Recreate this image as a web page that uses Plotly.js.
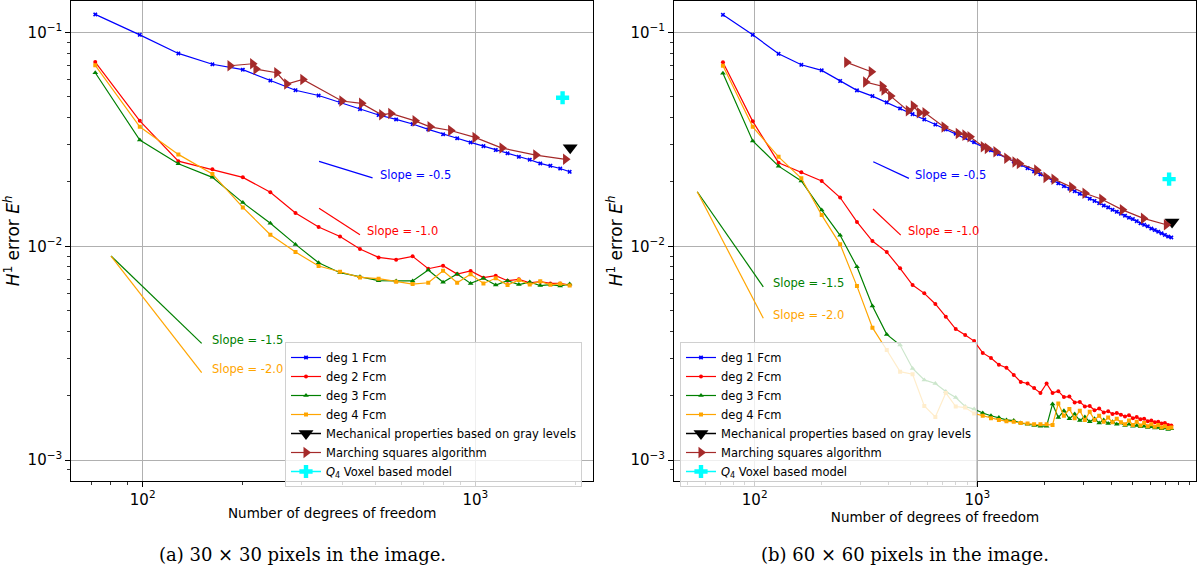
<!DOCTYPE html>
<html>
<head>
<meta charset="utf-8">
<script src="https://cdn.plot.ly/plotly-3.0.1.min.js"></script>
<style>html,body{margin:0;padding:0;background:#fff;}#chart{width:1198px;height:570px;}</style>
</head>
<body>
<div id="chart"></div>
<script>
// ---------- (a) 30 x 30 pixels ----------
const dofA = [72, 98, 128, 162, 200, 242, 288, 338, 392, 450, 512, 578, 648, 722, 800, 882, 968, 1058, 1152, 1250, 1352, 1458, 1568, 1682, 1800, 1922];
const deg1A = [0.1215, 0.0975, 0.0798, 0.0710, 0.0670, 0.0596, 0.0537, 0.0507, 0.0471, 0.0438, 0.0411, 0.0392, 0.0373, 0.0352, 0.0334, 0.0320, 0.0306, 0.0294, 0.0282, 0.0272, 0.0262, 0.0254, 0.0244, 0.0238, 0.0231, 0.0223];
const deg2A = [0.0727, 0.0386, 0.0250, 0.0229, 0.0210, 0.0179, 0.0143, 0.0123, 0.0111, 0.0097, 0.00887, 0.00865, 0.00897, 0.00785, 0.00811, 0.00741, 0.00766, 0.00713, 0.00728, 0.00690, 0.00700, 0.00675, 0.00683, 0.00670, 0.00670, 0.00658];
const deg3A = [0.0648, 0.0314, 0.0243, 0.0210, 0.0160, 0.0128, 0.0102, 0.00837, 0.00752, 0.00720, 0.00690, 0.00688, 0.00688, 0.00774, 0.00678, 0.00741, 0.00670, 0.00708, 0.00658, 0.00690, 0.00662, 0.00680, 0.00655, 0.00662, 0.00652, 0.00665];
const deg4A = [0.0702, 0.0362, 0.0269, 0.0218, 0.0152, 0.01132, 0.00939, 0.00808, 0.0076, 0.00715, 0.00705, 0.00683, 0.00665, 0.00675, 0.00768, 0.00675, 0.00739, 0.00670, 0.00708, 0.00658, 0.00695, 0.00662, 0.00685, 0.00660, 0.00668, 0.00655];
const msDofA = [183, 214, 219, 253, 271, 303, 397, 455, 523, 557, 659, 731, 843, 998, 1203, 1520, 1868];
const msErrA = [0.0699, 0.0714, 0.0674, 0.0648, 0.0574, 0.0603, 0.0478, 0.0466, 0.0412, 0.0418, 0.0386, 0.0362, 0.0348, 0.0323, 0.0288, 0.0267, 0.0255];
const grayDofA = [1929];
const grayErrA = [0.0289];
const voxDofA = [1830];
const voxErrA = [0.0495];

// ---------- (b) 60 x 60 pixels ----------
const dofB = [72, 98, 128, 162, 200, 242, 288, 338, 392, 450, 512, 578, 648, 722, 800, 882, 968, 1058, 1152, 1250, 1352, 1458, 1568, 1682, 1800, 1922,
  2048, 2178, 2312, 2450, 2592, 2738, 2888, 3042, 3200, 3362, 3528, 3698, 3872, 4050, 4232, 4418, 4608, 4802, 5000, 5202, 5408, 5618, 5832, 6050, 6272, 6498, 6728, 6962, 7200, 7442];
const deg1B = [0.121, 0.0975, 0.0795, 0.0706, 0.0665, 0.0593, 0.0536, 0.0504, 0.0471, 0.0441, 0.0415, 0.0392, 0.0371, 0.0352, 0.0336, 0.0321, 0.0307, 0.0293, 0.0281, 0.0270, 0.0259, 0.0249, 0.0240, 0.0232, 0.0224, 0.0217,
  0.0210, 0.0203, 0.0197, 0.0191, 0.0186, 0.0181, 0.0176, 0.0172, 0.0167, 0.0163, 0.0159, 0.0155, 0.0152, 0.0148, 0.0145, 0.0142, 0.0139, 0.0136, 0.0134, 0.0131, 0.0128, 0.0126, 0.0124, 0.0121, 0.0119, 0.0117, 0.0115, 0.0113, 0.0111, 0.0110];
const deg2B = [0.0725, 0.0384, 0.0246, 0.0222, 0.0202, 0.0169, 0.0130, 0.01057, 0.00939, 0.00788, 0.00658, 0.00602, 0.00537, 0.00468, 0.00410, 0.00384, 0.00360, 0.00317, 0.00300, 0.00279, 0.00270, 0.00250, 0.00232, 0.00228, 0.00217, 0.00206,
  0.00228, 0.00206, 0.00210, 0.00197, 0.00198, 0.00186, 0.00187, 0.00178, 0.00179, 0.00171, 0.00174, 0.00167, 0.00169, 0.00164, 0.00166, 0.00163, 0.00160, 0.00162, 0.00157, 0.00159, 0.00155, 0.00156, 0.00152, 0.00153, 0.00150, 0.00151, 0.00148, 0.00149, 0.00146, 0.00145];
const deg3B = [0.0644, 0.0311, 0.0237, 0.0202, 0.01477, 0.01125, 0.00802, 0.00525, 0.00387, 0.00345, 0.00268, 0.00237, 0.00228, 0.00209, 0.00196, 0.00178, 0.00173, 0.00166, 0.00161, 0.00158, 0.00154, 0.00153, 0.00149, 0.00147, 0.00145, 0.00144,
  0.00144, 0.00183, 0.00158, 0.00170, 0.00156, 0.00164, 0.00153, 0.00159, 0.00151, 0.00156, 0.00149, 0.00154, 0.00148, 0.00151, 0.00147, 0.00149, 0.00145, 0.00147, 0.00144, 0.00145, 0.00143, 0.00144, 0.00142, 0.00143, 0.00141, 0.00142, 0.00140, 0.00141, 0.00139, 0.00140];
const deg4B = [0.0699, 0.0362, 0.0262, 0.0208, 0.01399, 0.01021, 0.00651, 0.00416, 0.00327, 0.00259, 0.00252, 0.00179, 0.00159, 0.00206, 0.00178, 0.00176, 0.00165, 0.00161, 0.00157, 0.00154, 0.00152, 0.00151, 0.00149, 0.00148, 0.00147, 0.00147,
  0.00147, 0.00146, 0.00184, 0.00161, 0.00173, 0.00157, 0.00170, 0.00154, 0.00168, 0.00154, 0.00161, 0.00151, 0.00158, 0.00150, 0.00156, 0.00150, 0.00147, 0.00153, 0.00146, 0.00151, 0.00145, 0.00149, 0.00144, 0.00147, 0.00143, 0.00146, 0.00142, 0.00144, 0.00141, 0.00142];
const msDofB = [259, 334, 315, 374, 381, 408, 490, 516, 549, 582, 709, 821, 880, 927, 1064, 1109, 1213, 1356, 1477, 1544, 1849, 2035, 2211, 2655, 3046, 3622, 4486, 5576, 7072];
const msErrB = [0.0725, 0.0655, 0.0586, 0.0561, 0.0538, 0.0504, 0.0430, 0.0453, 0.0421, 0.0421, 0.0361, 0.0337, 0.0331, 0.0325, 0.0292, 0.0287, 0.0277, 0.0258, 0.0248, 0.0244, 0.0227, 0.0210, 0.0206, 0.0189, 0.0177, 0.0166, 0.0148, 0.0135, 0.0126];
const grayDofB = [7500];
const grayErrB = [0.0130];
const voxDofB = [7272];
const voxErrB = [0.0206];

// ---------- reference slope segments (end points) ----------
const slopeLabels = ["Slope = -0.5", "Slope = -1.0", "Slope = -1.5", "Slope = -2.0"];
const slopeColors = ["#0000ff", "#ff0000", "#008000", "#ffa500"];
const slopeXA = [[339, 491], [339, 450], [80.3, 150.4], [80.3, 150.4]];
const slopeYA = [[0.02494, 0.0209], [0.01504, 0.01132], [0.0090, 0.00351], [0.0090, 0.00256]];
const slopeTxtXA = [509, 466, 159, 159];
const slopeTxtYA = [0.0216, 0.01182, 0.00364, 0.00267];
const slopeXB = [[341, 493], [340, 453], [55.2, 109.3], [55.2, 109.3]];
const slopeYB = [[0.02484, 0.02078], [0.01493, 0.01128], [0.01799, 0.00646], [0.01799, 0.0046]];
const slopeTxtXB = [516, 478, 118.7, 118.7];
const slopeTxtYB = [0.02153, 0.01182, 0.0067, 0.00477];

// ---------- tick labels ----------
const xTickVals = [100, 1000];
const xTickText = ["10<sup>2</sup>", "10<sup>3</sup>"];
const yTickVals = [0.001, 0.01, 0.1];
const yTickText = ["10<sup>\u22123</sup>", "10<sup>\u22122</sup>", "10<sup>\u22121</sup>"];

const names = ["deg 1 Fcm", "deg 2 Fcm", "deg 3 Fcm", "deg 4 Fcm",
  "Mechanical properties based on gray levels", "Marching squares algorithm", "<i>Q</i><sub>4</sub> Voxel based model"];

function minorVals(lo, hi, rmin, rmax) {
  const v = [];
  for (let e = lo; e <= hi; e++) for (let k = 2; k <= 9; k++) {
    const t = k * Math.pow(10, e);
    const l = Math.log10(t);
    if (l > rmin && l < rmax) v.push(t);
  }
  return v;
}

function panelTraces(xa, ya, leg, dof, d1, d2, d3, d4, msD, msE, gD, gE, vD, vE, sX, sY) {
  const t = [];
  const common = {xaxis: xa, yaxis: ya, legend: leg};
  t.push(Object.assign({x: dof, y: d1, name: names[0], mode: 'lines+markers',
    line: {color: '#0000ff', width: 1.2}, marker: {symbol: 'x', size: 4, color: '#0000ff'}}, common));
  t.push(Object.assign({x: dof, y: d2, name: names[1], mode: 'lines+markers',
    line: {color: '#ff0000', width: 1.2}, marker: {symbol: 'circle', size: 4, color: '#ff0000'}}, common));
  t.push(Object.assign({x: dof, y: d3, name: names[2], mode: 'lines+markers',
    line: {color: '#008000', width: 1.2}, marker: {symbol: 'triangle-up', size: 5, color: '#008000'}}, common));
  t.push(Object.assign({x: dof, y: d4, name: names[3], mode: 'lines+markers',
    line: {color: '#ffa500', width: 1.2}, marker: {symbol: 'square', size: 4, color: '#ffa500'}}, common));
  t.push(Object.assign({x: gD, y: gE, name: names[4], mode: 'lines+markers',
    line: {color: '#000000', width: 1.5}, marker: {symbol: 'triangle-down', size: 13, color: '#000000'}}, common));
  t.push(Object.assign({x: msD, y: msE, name: names[5], mode: 'lines+markers',
    line: {color: '#a52a2a', width: 1.2}, marker: {symbol: 'triangle-right', size: 10, color: '#a52a2a'}}, common));
  t.push(Object.assign({x: vD, y: vE, name: names[6], mode: 'lines+markers',
    line: {color: '#00ffff', width: 1.5}, marker: {symbol: 'cross', size: 11, color: '#00ffff'}}, common));
  for (let i = 0; i < sX.length; i++) {
    t.push({x: sX[i], y: sY[i], mode: 'lines', xaxis: xa, yaxis: ya, showlegend: false, hoverinfo: 'skip',
      line: {color: slopeColors[i], width: 1.2}});
  }
  return t;
}

const data = [].concat(
  panelTraces('x', 'y', 'legend', dofA, deg1A, deg2A, deg3A, deg4A, msDofA, msErrA, grayDofA, grayErrA, voxDofA, voxErrA, slopeXA, slopeYA),
  panelTraces('x2', 'y2', 'legend2', dofB, deg1B, deg2B, deg3B, deg4B, msDofB, msErrB, grayDofB, grayErrB, voxDofB, voxErrB, slopeXB, slopeYB)
);

const tickFont = {family: 'DejaVu Sans', size: 15, color: '#000'};
function xAxis(domain, range, anchor) {
  return {type: 'log', domain: domain, range: range, anchor: anchor, automargin: false,
    tickmode: 'array', tickvals: xTickVals, ticktext: xTickText, tickfont: tickFont,
    ticks: 'outside', ticklen: 5, tickwidth: 1, tickcolor: '#000',
    minor: {tickmode: 'array', tickvals: minorVals(1, 3, range[0], range[1]), ticks: 'outside', ticklen: 3, tickwidth: 0.8, tickcolor: '#000', showgrid: false},
    showline: true, mirror: true, linecolor: '#000', linewidth: 1,
    showgrid: true, gridcolor: '#b0b0b0', gridwidth: 1, zeroline: false,
    title: {text: 'Number of degrees of freedom', font: {family: 'DejaVu Sans', size: 13.5, color: '#000'}, standoff: 0}};
}
const yRange = [-3.0968, -0.8527];
function yAxis(domain, anchor) {
  return {type: 'log', domain: domain, range: yRange, anchor: anchor, automargin: false,
    tickmode: 'array', tickvals: yTickVals, ticktext: yTickText, tickfont: tickFont,
    ticks: 'outside', ticklen: 5, tickwidth: 1, tickcolor: '#000',
    minor: {tickmode: 'array', tickvals: minorVals(-4, -1, yRange[0], yRange[1]), ticks: 'outside', ticklen: 3, tickwidth: 0.8, tickcolor: '#000', showgrid: false},
    showline: true, mirror: true, linecolor: '#000', linewidth: 1,
    showgrid: true, gridcolor: '#b0b0b0', gridwidth: 1, zeroline: false,
    title: {text: '<i>H</i><sup>1</sup> error <i>E</i><sup><i>h</i></sup>', font: {family: 'DejaVu Sans', size: 17, color: '#000'}, standoff: 3}};
}

const slopeFont = (c) => ({family: 'DejaVu Sans', size: 11.5, color: c});
const annotations = [];
for (let i = 0; i < 4; i++) {
  annotations.push({xref: 'x', yref: 'y', x: Math.log10(slopeTxtXA[i]), y: Math.log10(slopeTxtYA[i]), text: slopeLabels[i],
    showarrow: false, xanchor: 'left', yanchor: 'middle', font: slopeFont(slopeColors[i])});
  annotations.push({xref: 'x2', yref: 'y2', x: Math.log10(slopeTxtXB[i]), y: Math.log10(slopeTxtYB[i]), text: slopeLabels[i],
    showarrow: false, xanchor: 'left', yanchor: 'middle', font: slopeFont(slopeColors[i])});
}
const capFont = {family: 'DejaVu Serif', size: 18, color: '#000'};
annotations.push({xref: 'paper', yref: 'paper', x: 302 / 1198, y: 1 - 554 / 570, text: '(a) 30 \u00d7 30 pixels in the image.',
  showarrow: false, xanchor: 'center', yanchor: 'middle', font: capFont});
annotations.push({xref: 'paper', yref: 'paper', x: 905 / 1198, y: 1 - 554 / 570, text: '(b) 60 \u00d7 60 pixels in the image.',
  showarrow: false, xanchor: 'center', yanchor: 'middle', font: capFont});

const legendStyle = (x) => ({x: x, y: 1 - 342 / 570, xanchor: 'left', yanchor: 'top', xref: 'paper', yref: 'paper',
  bgcolor: 'rgba(255,255,255,0.8)', bordercolor: '#d0d0d0', borderwidth: 1, tracegroupgap: 0,
  font: {family: 'DejaVu Sans', size: 11.5, color: '#000'}, itemsizing: 'trace'});

const layout = {
  width: 1198, height: 570,
  margin: {l: 0, r: 0, t: 0, b: 0},
  paper_bgcolor: '#fff', plot_bgcolor: '#fff',
  font: {family: 'DejaVu Sans', color: '#000'},
  showlegend: true,
  xaxis: xAxis([71.2 / 1198, 593.2 / 1198], [1.785, 3.3545], 'y'),
  yaxis: yAxis([1 - 480.7 / 570, 1 - 1 / 570], 'x'),
  xaxis2: xAxis([674 / 1198, 1196 / 1198], [1.6375, 3.9825], 'y2'),
  yaxis2: yAxis([1 - 480.7 / 570, 1 - 1 / 570], 'x2'),
  legend: legendStyle(285 / 1198),
  legend2: legendStyle(680 / 1198),
  annotations: annotations
};

Plotly.newPlot('chart', data, layout, {displayModeBar: false, staticPlot: true});
</script>
</body>
</html>
